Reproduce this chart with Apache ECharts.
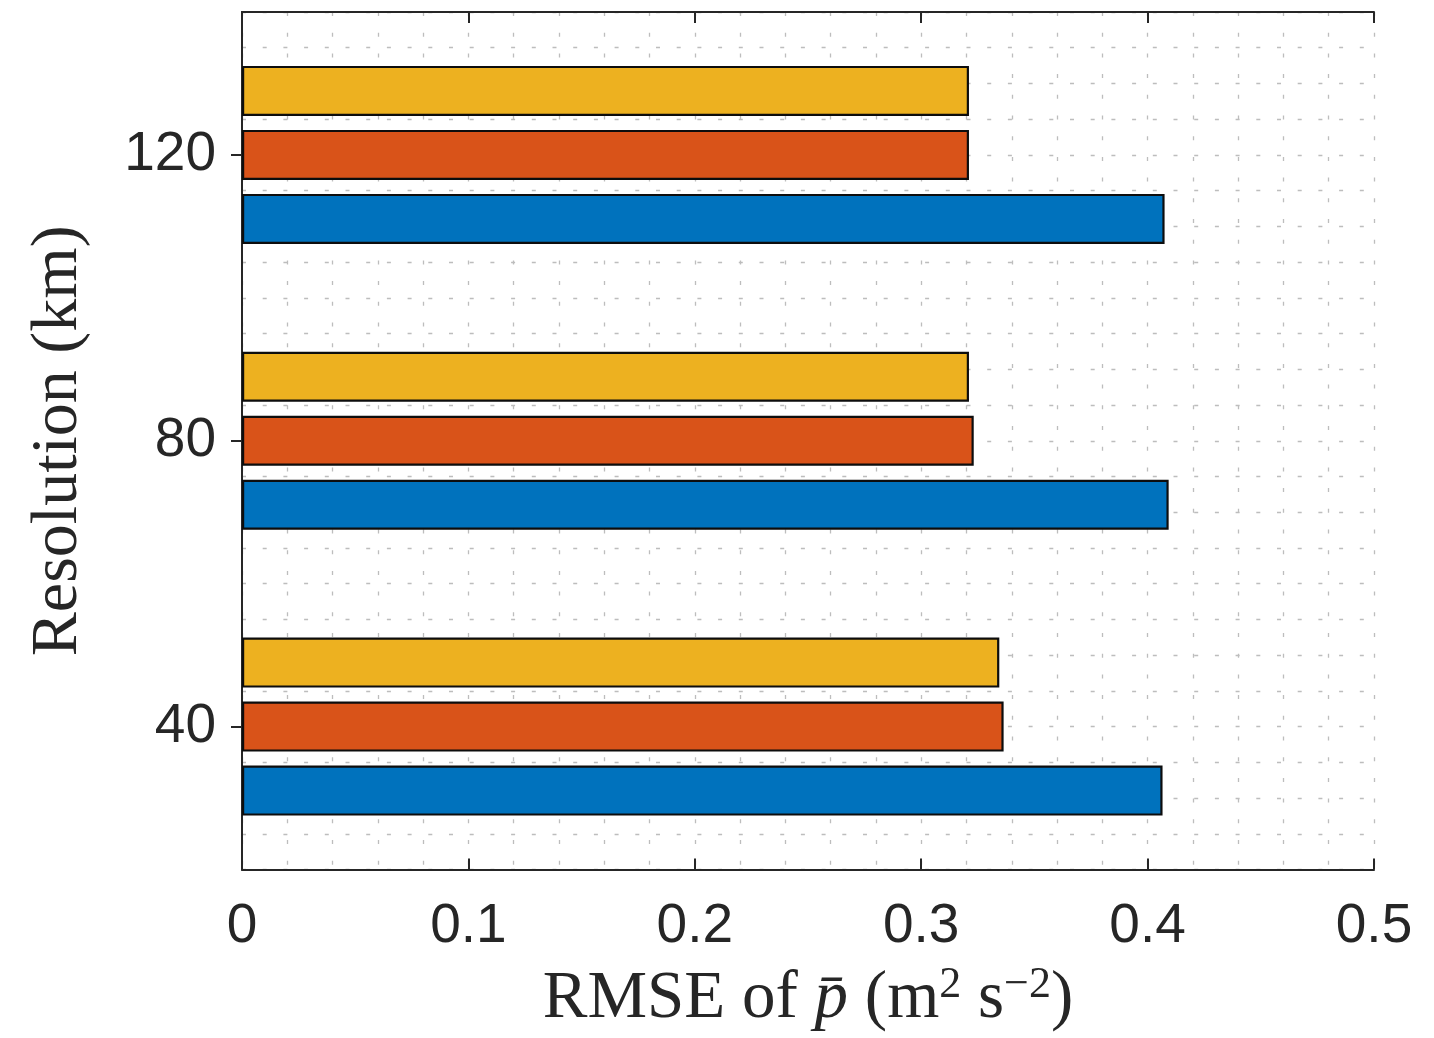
<!DOCTYPE html>
<html>
<head>
<meta charset="utf-8">
<script src="https://cdn.jsdelivr.net/npm/echarts@6/dist/echarts.min.js"></script>
<style>
html,body{margin:0;padding:0;background:#fff;}
#chart{width:1434px;height:1038px;}
</style>
</head>
<body>
<div id="chart"></div>
<script>
// Data
const yCategories = ['20','25','30','35','40','45','50','55','60','65','70','75','80','85','90','95','100','105','110','115','120','125','130','135','140'];
const resolutions = ['40', '80', '120'];
const blueValues = [0.4066, 0.4093, 0.4075];
const orangeValues = [0.3364, 0.3232, 0.3211];
const yellowValues = [0.3345, 0.3211, 0.3211];
const yTickLabels = ['40', '80', '120'];

const axisColor = '#262626';
const gridStyle = {color: '#bdbdbd', width: 1.3, type: [4, 16.7]};
const labelFont = 'Liberation Sans, Helvetica, Arial, sans-serif';
const serif = 'Liberation Serif, Times New Roman, serif';

function pairs(vals){ return vals.map((v,i)=>[v, resolutions[i]]); }
const showTick = (idx, val) => yTickLabels.indexOf(String(val)) >= 0;

const chart = echarts.init(document.getElementById('chart'), null, {renderer:'canvas'});
chart.setOption({
  animation: false,
  backgroundColor: '#fff',
  grid: {left: 242, right: 60, top: 12, bottom: 168, containLabel: false},
  xAxis: [
    {
      type: 'value', position: 'bottom', min: 0, max: 0.5, interval: 0.1,
      axisLine: {show: true, lineStyle: {color: axisColor, width: 2}},
      axisTick: {show: true, inside: true, length: 11, lineStyle: {color: axisColor, width: 2}},
      axisLabel: {show: true, margin: 30, color: axisColor, fontSize: 55, fontFamily: labelFont,
        formatter: v => String(v)},
      splitLine: {show: true, lineStyle: gridStyle},
      minorTick: {show: false, splitNumber: 5},
      minorSplitLine: {show: true, lineStyle: gridStyle},
      name: '{t|RMSE of }{it|p\u0304}{t| (m}{sup|2}{t| s}{sup|\u22122}{t|)}',
      nameLocation: 'middle', nameGap: 94,
      nameTextStyle: {
        color: axisColor,
        rich: {
          t: {fontFamily: serif, fontSize: 67, color: axisColor},
          it: {fontFamily: serif, fontSize: 67, fontStyle: 'italic', color: axisColor},
          sup: {fontFamily: serif, fontSize: 44, color: axisColor, verticalAlign: 'top', padding:[0,0,28,0]}
        }
      }
    },
    {
      type: 'value', position: 'top', min: 0, max: 0.5, interval: 0.1,
      axisLine: {show: true, lineStyle: {color: axisColor, width: 2}},
      axisTick: {show: true, inside: true, length: 11, lineStyle: {color: axisColor, width: 2}},
      axisLabel: {show: false},
      splitLine: {show: false}
    }
  ],
  yAxis: [
    {
      type: 'category', position: 'left', data: yCategories, boundaryGap: false,
      axisLine: {show: true, lineStyle: {color: axisColor, width: 2}},
      axisTick: {show: true, inside: true, length: 11, interval: showTick, lineStyle: {color: axisColor, width: 2}},
      axisLabel: {show: true, margin: 26, color: axisColor, fontSize: 55, fontFamily: labelFont, interval: showTick},
      splitLine: {show: true, interval: 0, lineStyle: gridStyle},
      name: 'Resolution (km)',
      nameLocation: 'middle', nameGap: 150,
      nameTextStyle: {color: axisColor, fontFamily: serif, fontSize: 66}
    },
    {
      type: 'category', position: 'right', data: yCategories, boundaryGap: false,
      axisLine: {show: true, lineStyle: {color: axisColor, width: 2}},
      axisTick: {show: true, inside: true, length: 11, interval: showTick, lineStyle: {color: axisColor, width: 2}},
      axisLabel: {show: false},
      splitLine: {show: false}
    }
  ],
  series: [
    {name: 'yellow', type: 'bar', xAxisIndex: 0, yAxisIndex: 0, data: pairs(yellowValues),
      encode: {x: 0, y: 1}, barWidth: 50, barGap: '28%',
      itemStyle: {color: '#EDB120', borderColor: '#0d0d0d', borderWidth: 2.2}},
    {name: 'orange', type: 'bar', xAxisIndex: 0, yAxisIndex: 0, data: pairs(orangeValues),
      encode: {x: 0, y: 1}, barWidth: 50, barGap: '28%',
      itemStyle: {color: '#D95319', borderColor: '#0d0d0d', borderWidth: 2.2}},
    {name: 'blue', type: 'bar', xAxisIndex: 0, yAxisIndex: 0, data: pairs(blueValues),
      encode: {x: 0, y: 1}, barWidth: 50, barGap: '28%',
      itemStyle: {color: '#0072BD', borderColor: '#0d0d0d', borderWidth: 2.2}}
  ]
});
</script>
</body>
</html>
